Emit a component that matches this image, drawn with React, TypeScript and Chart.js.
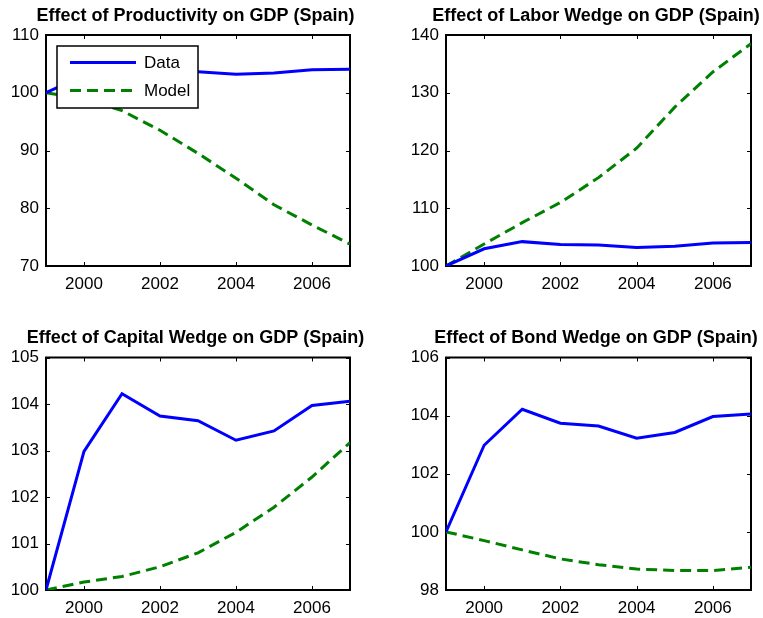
import React, { useEffect, useRef } from "react";
import { Chart, registerables } from "chart.js";

Chart.register(...registerables);

const FONT = '"Liberation Sans", Arial, Helvetica, sans-serif';
Chart.defaults.font.family = FONT;
Chart.defaults.color = "#000";

// ---------- data ----------
const years = [1999, 2000, 2001, 2002, 2003, 2004, 2005, 2006, 2007];
const xTickValues = [2000, 2002, 2004, 2006];

const gdpData = [100, 102.98, 104.22, 103.74, 103.64, 103.22, 103.42, 103.97, 104.06];
const productivityModel = [100, 98.9, 96.9, 93.5, 89.5, 85.2, 80.6, 77.1, 73.8];
const laborModel = [100, 103.8, 107.5, 111.0, 115.3, 120.4, 127.5, 133.6, 138.5];
const capitalModel = [100, 100.17, 100.29, 100.5, 100.8, 101.24, 101.78, 102.43, 103.17];
const bondModel = [100, 99.7, 99.38, 99.07, 98.87, 98.72, 98.67, 98.67, 98.78];

const productivityYTicks = [70, 80, 90, 100, 110];
const laborYTicks = [100, 110, 120, 130, 140];
const capitalYTicks = [100, 101, 102, 103, 104, 105];
const bondYTicks = [98, 100, 102, 104, 106];

const seriesLabels = ["Data", "Model"];
const panelTitles = [
  "Effect of Productivity on GDP (Spain)",
  "Effect of Labor Wedge on GDP (Spain)",
  "Effect of Capital Wedge on GDP (Spain)",
  "Effect of Bond Wedge on GDP (Spain)",
];

// ---------- plugins ----------
const framePlugin = {
  id: "matlabFrame",
  beforeDatasetsDraw(chart: any) {
    const { ctx, chartArea: a, scales } = chart;
    const tl = 4;
    ctx.save();
    ctx.strokeStyle = "#000";
    ctx.lineWidth = 1;
    ctx.beginPath();
    scales.x.ticks.forEach((t: any) => {
      const px = Math.round(scales.x.getPixelForValue(t.value)) + 0.5;
      ctx.moveTo(px, a.bottom);
      ctx.lineTo(px, a.bottom - tl);
      ctx.moveTo(px, a.top);
      ctx.lineTo(px, a.top + tl);
    });
    scales.y.ticks.forEach((t: any) => {
      const py = Math.round(scales.y.getPixelForValue(t.value)) + 0.5;
      ctx.moveTo(a.left, py);
      ctx.lineTo(a.left + tl, py);
      ctx.moveTo(a.right, py);
      ctx.lineTo(a.right - tl, py);
    });
    ctx.stroke();
    ctx.lineWidth = 2;
    ctx.strokeRect(a.left, a.top, a.right - a.left, a.bottom - a.top);
    ctx.restore();
  },
};

const titlePlugin = {
  id: "panelTitle",
  afterDraw(chart: any, _args: any, opts: any) {
    if (!opts || !opts.text) return;
    const { ctx, chartArea: a } = chart;
    ctx.save();
    ctx.fillStyle = "#000";
    ctx.font = `bold ${opts.size}px ${FONT}`;
    ctx.textAlign = "center";
    ctx.textBaseline = "alphabetic";
    ctx.fillText(opts.text, (a.left + a.right) / 2 + opts.offsetX, a.top - opts.baselineGap);
    ctx.restore();
  },
};

const legendPlugin = {
  id: "matlabLegend",
  afterDatasetsDraw(chart: any, _args: any, opts: any) {
    if (!opts || !opts.show) return;
    const { ctx, chartArea: a } = chart;
    const bx = a.left + opts.offsetX;
    const by = a.top + opts.offsetY;
    ctx.save();
    ctx.fillStyle = "#fff";
    ctx.fillRect(bx, by, opts.width, opts.height);
    ctx.strokeStyle = "#000";
    ctx.lineWidth = 1.5;
    ctx.strokeRect(bx, by, opts.width, opts.height);
    chart.data.datasets.forEach((ds: any, i: number) => {
      const y = by + opts.firstRow + i * opts.rowGap;
      ctx.strokeStyle = ds.borderColor;
      ctx.lineWidth = ds.borderWidth;
      ctx.setLineDash(ds.borderDash || []);
      ctx.beginPath();
      ctx.moveTo(bx + 13, y);
      ctx.lineTo(bx + 79, y);
      ctx.stroke();
      ctx.setLineDash([]);
      ctx.fillStyle = "#000";
      ctx.font = `17px ${FONT}`;
      ctx.textAlign = "left";
      ctx.textBaseline = "middle";
      ctx.fillText(ds.label, bx + 87, y + 1);
    });
    ctx.restore();
  },
};

// ---------- panel ----------
type PanelProps = {
  title: string;
  model: number[];
  yTicks: number[];
  legend: boolean;
  left: number;
  top: number;
  width: number;
  height: number;
  area: { l: number; r: number; t: number; b: number };
};

function Panel(p: PanelProps) {
  const ref = useRef<HTMLCanvasElement | null>(null);
  useEffect(() => {
    if (!ref.current) return;
    const yAxisW = 40;
    const xAxisH = 25;
    const chart = new Chart(ref.current, {
      type: "line",
      data: {
        datasets: [
          {
            label: seriesLabels[0],
            data: years.map((x, i) => ({ x, y: gdpData[i] })),
            borderColor: "#0000ff",
            borderWidth: 3,
            pointRadius: 0,
            tension: 0,
            fill: false,
          },
          {
            label: seriesLabels[1],
            data: years.map((x, i) => ({ x, y: p.model[i] })),
            borderColor: "#008000",
            borderWidth: 3,
            borderDash: [11, 6],
            pointRadius: 0,
            tension: 0,
            fill: false,
          },
        ],
      },
      options: {
        animation: false,
        responsive: false,
        events: [],
        layout: {
          padding: {
            left: p.area.l - yAxisW,
            top: p.area.t,
            right: p.width - p.area.r,
            bottom: p.height - p.area.b - xAxisH,
          },
        },
        scales: {
          x: {
            type: "linear",
            min: years[0],
            max: years[years.length - 1],
            grid: { display: false, drawTicks: false },
            border: { display: false },
            afterBuildTicks: (s: any) => {
              s.ticks = xTickValues.map((v) => ({ value: v }));
            },
            afterFit: (s: any) => {
              s.height = xAxisH;
            },
            ticks: {
              padding: 8,
              maxRotation: 0,
              autoSkip: false,
              color: "#000",
              font: { size: 17 },
              callback: (v: any) => String(v),
            },
          },
          y: {
            type: "linear",
            min: p.yTicks[0],
            max: p.yTicks[p.yTicks.length - 1],
            grid: { display: false, drawTicks: false },
            border: { display: false },
            afterBuildTicks: (s: any) => {
              s.ticks = p.yTicks.map((v) => ({ value: v }));
            },
            afterFit: (s: any) => {
              s.width = yAxisW;
            },
            ticks: {
              padding: 7,
              autoSkip: false,
              color: "#000",
              font: { size: 17 },
              callback: (v: any) => String(v),
            },
          },
        },
        plugins: {
          legend: { display: false },
          title: { display: false },
          tooltip: { enabled: false },
          panelTitle: { text: p.title, size: 18, offsetX: -2.5, baselineGap: 14.3 },
          matlabLegend: {
            show: p.legend,
            offsetX: 11,
            offsetY: 11,
            width: 141,
            height: 62,
            firstRow: 16.5,
            rowGap: 28,
          },
        } as any,
      },
      plugins: [framePlugin, titlePlugin, legendPlugin],
    });
    return () => chart.destroy();
  }, []);
  return (
    <canvas
      ref={ref}
      width={p.width}
      height={p.height}
      style={{
        position: "absolute",
        left: p.left,
        top: p.top,
        width: p.width,
        height: p.height,
      }}
    />
  );
}

export default function App() {
  return (
    <div
      style={{
        position: "absolute",
        left: 0,
        top: 0,
        width: 763,
        height: 618,
        background: "#fff",
        overflow: "hidden",
      }}
    >
      <Panel
        title={panelTitles[0]}
        model={productivityModel}
        yTicks={productivityYTicks}
        legend={true}
        left={0}
        top={0}
        width={381}
        height={305}
        area={{ l: 46, r: 350, t: 35, b: 266 }}
      />
      <Panel
        title={panelTitles[1]}
        model={laborModel}
        yTicks={laborYTicks}
        legend={false}
        left={381}
        top={0}
        width={382}
        height={305}
        area={{ l: 65, r: 370, t: 35, b: 266 }}
      />
      <Panel
        title={panelTitles[2]}
        model={capitalModel}
        yTicks={capitalYTicks}
        legend={false}
        left={0}
        top={305}
        width={381}
        height={313}
        area={{ l: 46, r: 350, t: 52.5, b: 285 }}
      />
      <Panel
        title={panelTitles[3]}
        model={bondModel}
        yTicks={bondYTicks}
        legend={false}
        left={381}
        top={305}
        width={382}
        height={313}
        area={{ l: 65, r: 370, t: 52.5, b: 285 }}
      />
    </div>
  );
}
